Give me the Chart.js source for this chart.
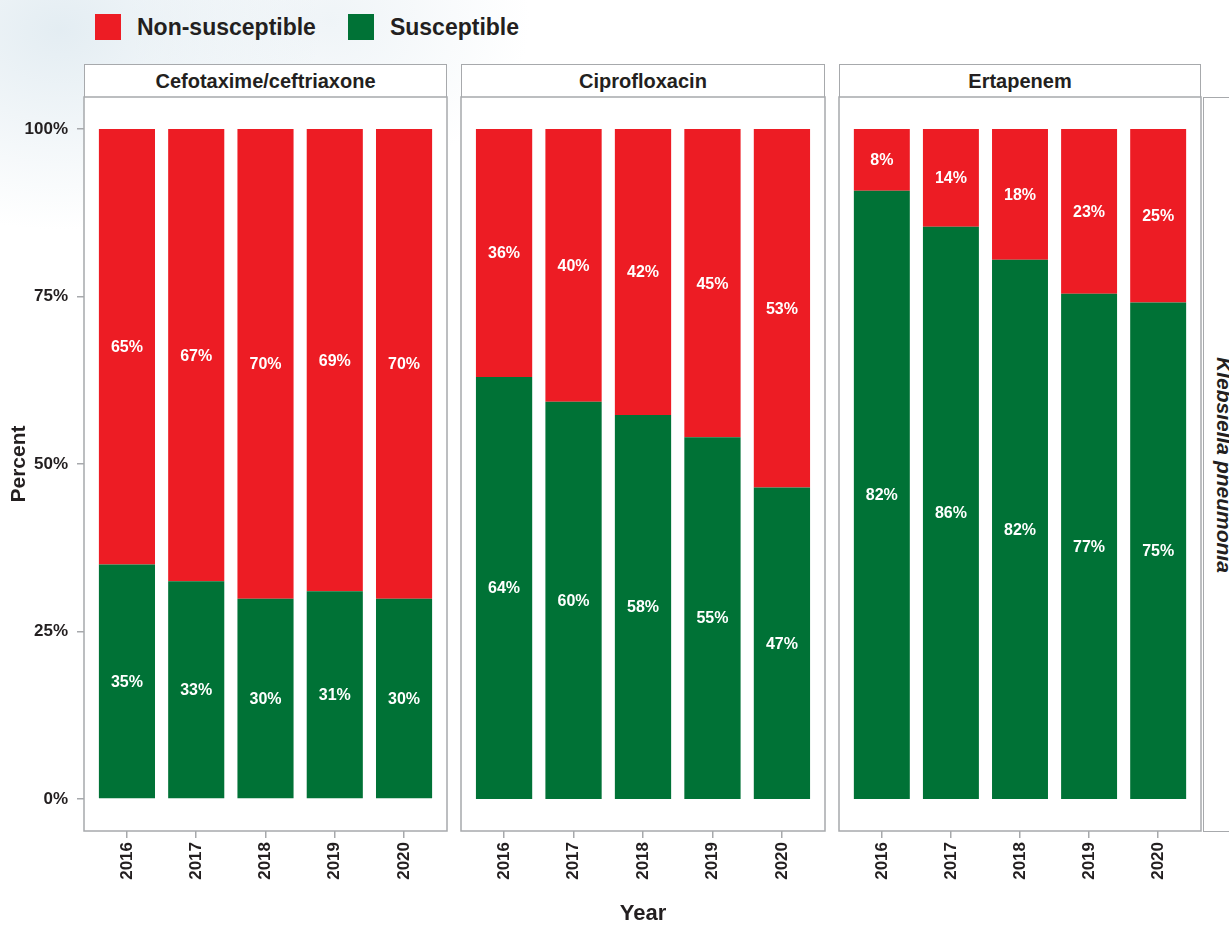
<!DOCTYPE html>
<html>
<head>
<meta charset="utf-8">
<title>Klebsiella pneumonia susceptibility</title>
<script src="https://cdn.jsdelivr.net/npm/chart.js@4.4.1/dist/chart.umd.min.js"></script>
<style>
  html, body { margin: 0; padding: 0; }
  body {
    width: 1229px; height: 925px; position: relative; overflow: hidden;
    font-family: 'Liberation Sans', Arial, sans-serif; color: #231f20;
    background:
      radial-gradient(ellipse 260px 200px at 60px 30px, rgba(205,222,232,0.55), rgba(255,255,255,0) 100%),
      radial-gradient(ellipse 200px 160px at 330px 20px, rgba(215,228,236,0.4), rgba(255,255,255,0) 100%),
      #ffffff;
  }
  #legend { position: absolute; left: 95px; top: 14px; height: 26px; display: flex; align-items: center; }
  .key { display: flex; align-items: center; margin-right: 32px; font-size: 23px; font-weight: bold; }
  .swatch { width: 26px; height: 26px; margin-right: 16px; }
  .strip {
    position: absolute; top: 64px; height: 34px; box-sizing: border-box;
    border: 1.5px solid #a7a9ac; background: #fff;
    font-size: 20px; font-weight: bold; display: flex; align-items: center; justify-content: center;
  }
  #rowStrip {
    position: absolute; left: 1203px; top: 97px; width: 40px; height: 735px; box-sizing: border-box;
    border: 1.5px solid #a7a9ac; border-right: none;
    display: flex; align-items: center; justify-content: center;
  }
  #rowStrip span { writing-mode: vertical-rl; font-size: 21px; font-weight: bold; font-style: italic; }
  canvas { position: absolute; }
</style>
</head>
<body>
<div id="legend"></div>
<div id="strips"></div>
<div id="rowStrip"><span id="rowLabel"></span></div>
<canvas id="c0"></canvas>
<canvas id="c1"></canvas>
<canvas id="c2"></canvas>

<script>
// ---------- Data ----------
const years = ['2016', '2017', '2018', '2019', '2020'];
const drugs = ['Cefotaxime/ceftriaxone', 'Ciprofloxacin', 'Ertapenem'];
const organism = 'Klebsiella pneumonia';
const seriesNames = ['Non-susceptible', 'Susceptible'];

// bar heights (% of isolates)
const suscCefo = [35.0, 32.5, 29.9, 31.0, 29.9];
const nonSuscCefo = [65.0, 67.5, 70.1, 69.0, 70.1];
const suscCipro = [63.0, 59.3, 57.3, 54.0, 46.5];
const nonSuscCipro = [37.0, 40.7, 42.7, 46.0, 53.5];
const suscErta = [90.8, 85.4, 80.5, 75.4, 74.1];
const nonSuscErta = [9.2, 14.6, 19.5, 24.6, 25.9];

// percentages printed on the bars
const suscLabelCefo = [35, 33, 30, 31, 30];
const nonSuscLabelCefo = [65, 67, 70, 69, 70];
const suscLabelCipro = [64, 60, 58, 55, 47];
const nonSuscLabelCipro = [36, 40, 42, 45, 53];
const suscLabelErta = [82, 86, 82, 77, 75];
const nonSuscLabelErta = [8, 14, 18, 23, 25];

const yTicks = [0, 25, 50, 75, 100];

// ---------- Styling ----------
const RED = '#ed1c24';
const GREEN = '#007236';
const INK = '#231f20';
const FRAME = '#a7a9ac';
const FONT = "'Liberation Sans', Arial, sans-serif";

Chart.defaults.font.family = FONT;
Chart.defaults.color = INK;

// panel layout: canvas box and the plot area inside it
const panels = [
  { left: 0,   width: 455, pad: { top: 7, left: 0, right: 8, bottom: 0 }, yAxis: true,  xTitle: false },
  { left: 455, width: 376, pad: { top: 7, left: 6, right: 6, bottom: 0 }, yAxis: false, xTitle: true },
  { left: 833, width: 374, pad: { top: 7, left: 6, right: 6, bottom: 0 }, yAxis: false, xTitle: false }
];
const panelData = [
  { susc: suscCefo, non: nonSuscCefo, suscLab: suscLabelCefo, nonLab: nonSuscLabelCefo },
  { susc: suscCipro, non: nonSuscCipro, suscLab: suscLabelCipro, nonLab: nonSuscLabelCipro },
  { susc: suscErta, non: nonSuscErta, suscLab: suscLabelErta, nonLab: nonSuscLabelErta }
];

// ---------- HTML bits: legend, strips ----------
const legend = document.getElementById('legend');
[RED, GREEN].forEach((c, i) => {
  const k = document.createElement('div');
  k.className = 'key';
  k.innerHTML = '<div class="swatch" style="background:' + c + '"></div>' + seriesNames[i];
  legend.appendChild(k);
});
document.getElementById('rowLabel').textContent = organism;

// ---------- Plugins ----------
const frame = {
  id: 'frame',
  beforeDraw(chart) {
    const { ctx, chartArea: a } = chart;
    ctx.save();
    ctx.fillStyle = '#fff';
    ctx.fillRect(a.left, a.top, a.right - a.left, a.bottom - a.top);
    ctx.restore();
  },
  afterDraw(chart) {
    const { ctx, chartArea: a } = chart;
    ctx.save();
    ctx.strokeStyle = FRAME;
    ctx.lineWidth = 1.5;
    ctx.strokeRect(a.left, a.top, a.right - a.left, a.bottom - a.top);
    ctx.restore();
  }
};

const barText = {
  id: 'barText',
  afterDatasetsDraw(chart) {
    const ctx = chart.ctx;
    ctx.save();
    ctx.font = 'bold 16px ' + FONT;
    ctx.fillStyle = '#fff';
    ctx.textAlign = 'center';
    ctx.textBaseline = 'middle';
    chart.data.datasets.forEach((ds, i) => {
      chart.getDatasetMeta(i).data.forEach((bar, j) => {
        const p = bar.getProps(['x', 'y', 'base'], true);
        ctx.fillText(ds.pctLabels[j] + '%', p.x, (p.y + p.base) / 2 + 1);
      });
    });
    ctx.restore();
  }
};

// keep the plot area fixed: no extra room for half-labels at the ends
function noEdgePadding(s) {
  s.paddingTop = 0; s.paddingBottom = 0; s.paddingLeft = 0; s.paddingRight = 0;
}

// ---------- Charts ----------
panels.forEach((p, idx) => {
  const d = panelData[idx];
  const canvas = document.getElementById('c' + idx);
  canvas.width = p.width;
  canvas.height = 835;
  canvas.style.left = p.left + 'px';
  canvas.style.top = '90px';

  // strip on top of the panel
  const strip = document.createElement('div');
  strip.className = 'strip';
  strip.style.left = (p.left + p.pad.left + (p.yAxis ? 84 : 0)) + 'px';
  strip.style.width = (p.width - p.pad.left - p.pad.right - (p.yAxis ? 84 : 0)) + 'px';
  strip.textContent = drugs[idx];
  document.getElementById('strips').appendChild(strip);

  new Chart(canvas, {
    type: 'bar',
    data: {
      labels: years,
      datasets: [
        { label: seriesNames[1], data: d.susc, pctLabels: d.suscLab, backgroundColor: GREEN },
        { label: seriesNames[0], data: d.non, pctLabels: d.nonLab, backgroundColor: RED }
      ]
    },
    options: {
      responsive: false,
      animation: false,
      devicePixelRatio: 1,
      layout: { padding: p.pad },
      datasets: { bar: { barPercentage: 0.81, categoryPercentage: 1 } },
      plugins: { legend: { display: false }, tooltip: { enabled: false } },
      scales: {
        x: {
          type: 'linear',
          stacked: true,
          offset: false,
          min: 2015.38,
          max: 2020.62,
          afterBuildTicks: s => { s.ticks = years.map(y => ({ value: +y })); },
          afterFit: s => { s.height = 94; noEdgePadding(s); },
          border: { display: false },
          grid: { offset: false, drawOnChartArea: false, drawTicks: true, tickLength: 7, color: FRAME, lineWidth: 1.5 },
          ticks: {
            autoSkip: false, minRotation: 90, maxRotation: 90, padding: 4,
            font: { size: 17, weight: 'bold' }, color: INK,
            callback: v => String(v)
          },
          title: {
            display: p.xTitle, text: 'Year', color: INK,
            font: { size: 22, weight: 'bold', lineHeight: 1 }, padding: { top: 0, bottom: 0 }
          }
        },
        y: {
          display: p.yAxis,
          stacked: true,
          min: -4.78,
          max: 104.78,
          afterBuildTicks: s => { s.ticks = yTicks.map(v => ({ value: v })); },
          afterFit: s => { s.width = p.yAxis ? 84 : 0; noEdgePadding(s); },
          border: { display: false },
          grid: { drawOnChartArea: false, drawTicks: true, tickLength: 7, color: FRAME, lineWidth: 1.5 },
          ticks: { padding: 9, font: { size: 17, weight: 'bold' }, color: INK, callback: v => v + '%' },
          title: {
            display: true, text: 'Percent', color: INK,
            font: { size: 21, weight: 'bold', lineHeight: 1 }, padding: { top: 9, bottom: 0 }
          }
        }
      }
    },
    plugins: [frame, barText]
  });
});
</script>
</body>
</html>
